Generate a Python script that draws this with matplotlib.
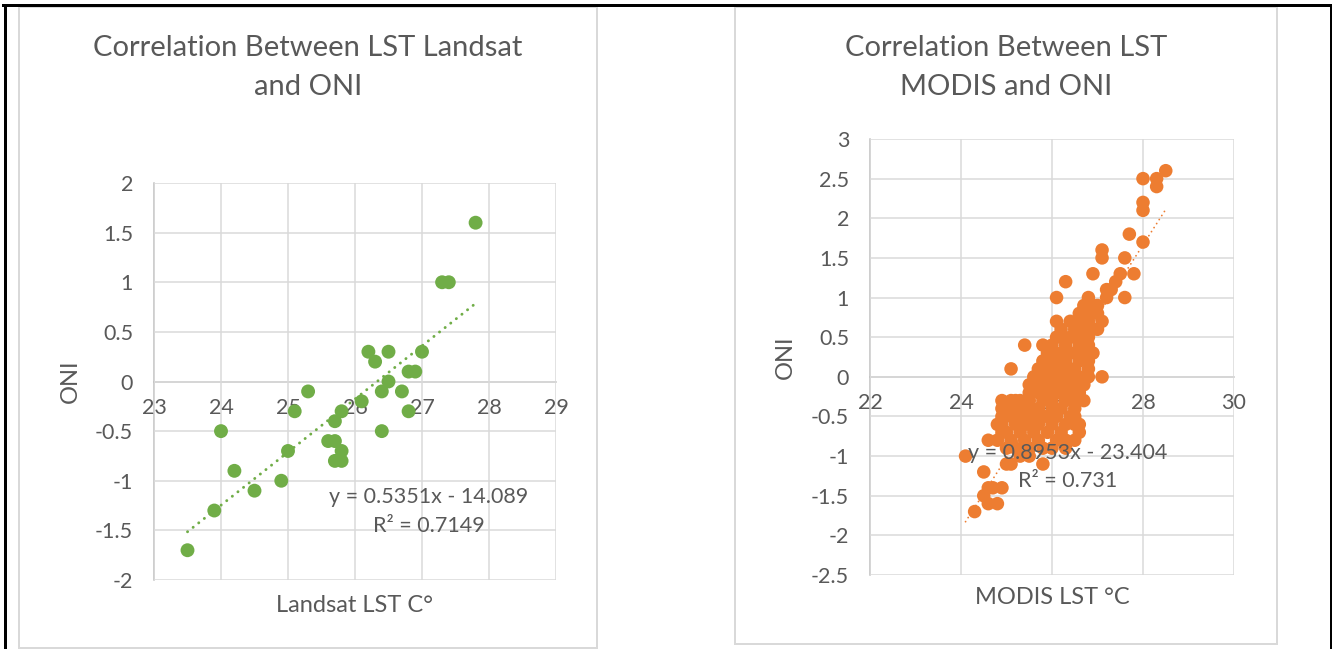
import matplotlib
matplotlib.use("Agg")
import matplotlib.pyplot as plt
from matplotlib.patches import Rectangle
from matplotlib.lines import Line2D

plt.rcParams["font.family"] = ["Lato", "DejaVu Sans"]
plt.rcParams["axes.unicode_minus"] = False

# ---- Landsat LST vs ONI ----
landsat_lst = [27.8, 27.3, 27.4, 26.2, 26.5, 27.0, 26.3, 26.8, 26.9, 26.5,
               26.4, 26.7, 25.3, 26.1, 25.1, 25.8, 26.8, 25.7, 24.0, 26.4,
               25.6, 25.7, 25.8, 25.0, 25.7, 25.8, 24.2, 24.9, 24.5, 23.9,
               23.5]
landsat_oni = [1.6, 1.0, 1.0, 0.3, 0.3, 0.3, 0.2, 0.1, 0.1, 0.0,
               -0.1, -0.1, -0.1, -0.2, -0.3, -0.3, -0.3, -0.4, -0.5, -0.5,
               -0.6, -0.6, -0.7, -0.7, -0.8, -0.8, -0.9, -1.0, -1.1, -1.3,
               -1.7]
landsat_fit = [0.5351, -14.089]
landsat_r2 = 0.7149

# ---- MODIS LST vs ONI (one row per ONI level) ----
modis_lst = [
    28.5,
    28.0, 28.3,
    28.3,
    28.0,
    28.0,
    27.7,
    28.0,
    27.1,
    27.1, 27.6,
    26.9, 27.5, 27.8,
    26.3, 27.4,
    27.2, 27.3,
    26.1, 26.8, 27.2, 27.6,
    26.7, 26.9, 27.0,
    26.6, 26.8, 27.0,
    26.1, 26.4, 26.6, 26.8, 27.1,
    26.2, 26.5, 26.7, 26.9, 27.0,
    26.1, 26.2, 26.4, 26.5, 26.7, 26.8,
    25.4, 25.8, 26.0, 26.3, 26.6, 26.8,
    25.9, 26.0, 26.2, 26.4, 26.5, 26.7, 26.9,
    25.8, 25.9, 26.1, 26.3, 26.6, 26.8,
    25.1, 25.7, 25.9, 26.0, 26.2, 26.4, 26.5, 26.8,
    25.6, 25.8, 26.0, 26.1, 26.3, 26.4, 26.6, 26.8, 27.1,
    25.5, 25.6, 25.8, 26.0, 26.2, 26.3, 26.5, 26.7,
    25.5, 25.7, 25.9, 26.1, 26.2, 26.4, 26.6,
    24.9, 25.1, 25.2, 25.3, 25.5, 25.8, 26.0, 26.3, 26.5, 26.7,
    24.9, 25.1, 25.3, 25.5, 25.7, 26.0, 26.2, 26.5,
    24.9, 25.1, 25.2, 25.4, 25.6, 25.8, 25.9, 26.1, 26.4, 26.5,
    24.8, 24.9, 25.2, 25.4, 25.5, 25.7, 26.0, 26.3, 26.5, 26.6,
    24.9, 25.0, 25.3, 25.6, 25.9, 26.2, 26.6,
    24.6, 24.8, 25.1, 25.4, 25.7, 26.1, 26.3, 26.5,
    25.0, 25.2, 25.5, 25.8, 26.0, 26.3,
    24.1, 25.3, 25.5,
    25.0, 25.1, 25.8,
    24.5,
    24.6, 24.7, 24.9,
    24.5,
    24.6, 24.8,
    24.3,
]
modis_oni = [
    2.6,
    2.5, 2.5,
    2.4,
    2.2,
    2.1,
    1.8,
    1.7,
    1.6,
    1.5, 1.5,
    1.3, 1.3, 1.3,
    1.2, 1.2,
    1.1, 1.1,
    1.0, 1.0, 1.0, 1.0,
    0.9, 0.9, 0.9,
    0.8, 0.8, 0.8,
    0.7, 0.7, 0.7, 0.7, 0.7,
    0.6, 0.6, 0.6, 0.6, 0.6,
    0.5, 0.5, 0.5, 0.5, 0.5, 0.5,
    0.4, 0.4, 0.4, 0.4, 0.4, 0.4,
    0.3, 0.3, 0.3, 0.3, 0.3, 0.3, 0.3,
    0.2, 0.2, 0.2, 0.2, 0.2, 0.2,
    0.1, 0.1, 0.1, 0.1, 0.1, 0.1, 0.1, 0.1,
    0.0, 0.0, 0.0, 0.0, 0.0, 0.0, 0.0, 0.0, 0.0,
    -0.1, -0.1, -0.1, -0.1, -0.1, -0.1, -0.1, -0.1,
    -0.2, -0.2, -0.2, -0.2, -0.2, -0.2, -0.2,
    -0.3, -0.3, -0.3, -0.3, -0.3, -0.3, -0.3, -0.3, -0.3, -0.3,
    -0.4, -0.4, -0.4, -0.4, -0.4, -0.4, -0.4, -0.4,
    -0.5, -0.5, -0.5, -0.5, -0.5, -0.5, -0.5, -0.5, -0.5, -0.5,
    -0.6, -0.6, -0.6, -0.6, -0.6, -0.6, -0.6, -0.6, -0.6, -0.6,
    -0.7, -0.7, -0.7, -0.7, -0.7, -0.7, -0.7,
    -0.8, -0.8, -0.8, -0.8, -0.8, -0.8, -0.8, -0.8,
    -0.9, -0.9, -0.9, -0.9, -0.9, -0.9,
    -1.0, -1.0, -1.0,
    -1.1, -1.1, -1.1,
    -1.2,
    -1.4, -1.4, -1.4,
    -1.5,
    -1.6, -1.6,
    -1.7,
]
modis_fit = [0.8953, -23.404]
modis_r2 = 0.731

landsat_xticks = [23, 24, 25, 26, 27, 28, 29]
landsat_yticks = [-2, -1.5, -1, -0.5, 0, 0.5, 1, 1.5, 2]
modis_xticks = [22, 24, 26, 28, 30]
modis_yticks = [-2.5, -2, -1.5, -1, -0.5, 0, 0.5, 1, 1.5, 2, 2.5, 3]

GREEN = "#70AD47"
ORANGE = "#ED7D31"
TEXT = "#595959"
GRID = "#D9D9D9"
AXIS = "#BFBFBF"
PANEL = "#D9D9D9"

W, H = 1332, 649
DPI = 100
fig = plt.figure(figsize=(W / DPI, H / DPI), dpi=DPI)
fig.patch.set_facecolor("white")


def px_rect(x0, y0, x1, y1):
    """Figure-fraction rectangle from pixel corners (origin top-left)."""
    return [x0 / W, 1 - y1 / H, (x1 - x0) / W, (y1 - y0) / H]


def fmt(v):
    return f"{v:g}"


# outer frame (top, left, right edges)
for xs, ys in [([3 / W, 1], [1 - 5 / H, 1 - 5 / H]),
               ([4.5 / W, 4.5 / W], [0, 1 - 5 / H]),
               ([1330.5 / W, 1330.5 / W], [0, 1 - 5 / H])]:
    fig.add_artist(Line2D(xs, ys, transform=fig.transFigure,
                          color="black", lw=3 * 72 / DPI))

# chart panels
for x0, y0, x1, y1 in [(19, 7, 597, 648), (735, 7, 1277, 644)]:
    fig.add_artist(Rectangle((x0 / W, 1 - y1 / H), (x1 - x0) / W, (y1 - y0) / H,
                             transform=fig.transFigure, fill=False,
                             ec=PANEL, lw=2 * 72 / DPI))


def style_axes(ax, xticks, yticks, xlabel, xlab_px, ylab_px, ax_px):
    x0, y0, x1, y1 = ax_px
    ax.set_xlim(xticks[0], xticks[-1])
    ax.set_ylim(yticks[0], yticks[-1])
    ax.set_xticks(xticks)
    ax.set_yticks(yticks)
    ax.set_xticklabels([fmt(v) for v in xticks])
    ax.set_yticklabels([fmt(v) for v in yticks])
    ax.grid(True, color=GRID, lw=1.5 * 72 / DPI, zorder=0)
    ax.set_axisbelow(True)
    for s in ["top", "right"]:
        ax.spines[s].set_visible(False)
    ax.spines["bottom"].set_position(("data", 0))
    for s in ["bottom", "left"]:
        ax.spines[s].set_color(AXIS)
        ax.spines[s].set_linewidth(1.5 * 72 / DPI)
        ax.spines[s].set_zorder(0.5)
    ax.tick_params(axis="both", length=0, colors=TEXT, labelsize=15.5)
    ax.tick_params(axis="x", pad=12)
    ax.tick_params(axis="y", pad=15)
    ax.set_xlabel(xlabel, fontsize=17, color=TEXT)
    ax.xaxis.set_label_coords(0.5, -(xlab_px - y1) / (y1 - y0))
    ax.xaxis.label.set_va("center")
    ax.set_ylabel("ONI", fontsize=17, color=TEXT)
    ax.yaxis.set_label_coords(-(x0 - ylab_px) / (x1 - x0), 0.5)
    ax.yaxis.label.set_va("center")


# ---- left chart ----
L_px = (154, 183, 556, 580)
axL = fig.add_axes(px_rect(*L_px))
style_axes(axL, landsat_xticks, landsat_yticks, "Landsat LST C°", 605, 70, L_px)
axL.scatter(landsat_lst, landsat_oni, s=100, color=GREEN, edgecolors="none", zorder=3)
xa, xb = min(landsat_lst), max(landsat_lst)
axL.plot([xa, xb],
         [landsat_fit[0] * xa + landsat_fit[1], landsat_fit[0] * xb + landsat_fit[1]],
         color=GREEN, lw=2.1, linestyle=(0, (0.05, 2.4)),
         dash_capstyle="round", zorder=4)
axL.text(27.1, -1.16, f"y = {landsat_fit[0]}x - {abs(landsat_fit[1])}",
         ha="center", va="center", fontsize=15.5, color=TEXT, zorder=5)
axL.text(27.1, -1.46, f"R² = {landsat_r2}",
         ha="center", va="center", fontsize=15.5, color=TEXT, zorder=5)

# ---- right chart ----
R_px = (870, 139, 1234, 575)
axR = fig.add_axes(px_rect(*R_px))
style_axes(axR, modis_xticks, modis_yticks, "MODIS LST °C", 597, 785, R_px)
axR.scatter(modis_lst, modis_oni, s=95, color=ORANGE, edgecolors="none", zorder=3)
xa, xb = min(modis_lst), max(modis_lst)
axR.plot([xa, xb],
         [modis_fit[0] * xa + modis_fit[1], modis_fit[0] * xb + modis_fit[1]],
         color=ORANGE, lw=1.3, linestyle=(0, (0.05, 2.6)),
         dash_capstyle="round", zorder=4)
axR.text(26.35, -0.96, f"y = {modis_fit[0]}x - {abs(modis_fit[1])}",
         ha="center", va="center", fontsize=15.5, color=TEXT, zorder=5)
axR.text(26.35, -1.32, f"R² = {modis_r2}",
         ha="center", va="center", fontsize=15.5, color=TEXT, zorder=5)

# titles
fig.text(308 / W, 1 - 67.5 / H, "Correlation Between LST Landsat\nand ONI",
         ha="center", va="center", fontsize=21, color=TEXT, linespacing=1.6)
fig.text(1006 / W, 1 - 67.5 / H, "Correlation Between LST\nMODIS and ONI",
         ha="center", va="center", fontsize=21, color=TEXT, linespacing=1.6)

fig.savefig("out.png", dpi=DPI, facecolor="white")
